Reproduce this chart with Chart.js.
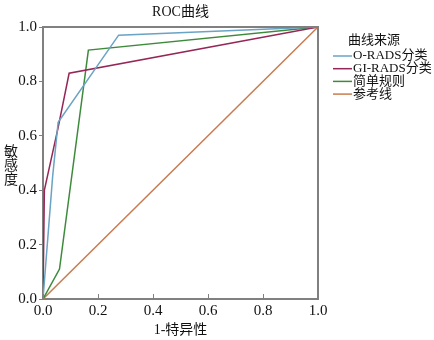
<!DOCTYPE html>
<html><head><meta charset="utf-8">
<script src="https://cdn.jsdelivr.net/npm/chart.js@4/dist/chart.umd.min.js"></script>
<style>html,body{margin:0;padding:0;background:#fff}#wrap{width:434px;height:340px}</style>
</head><body><div id="wrap"><canvas id="c" width="434" height="340"></canvas></div>
<script>
const titleText = 'ROC曲线';
const xTitle = '1-特异性';
const yTitle = ['敏', '感', '度'];
const legendTitle = '曲线来源';
const seriesNames = ['O-RADS分类', 'GI-RADS分类', '简单规则', '参考线'];
const seriesColors = ['#6aa3c4', '#952656', '#3e8a3c', '#c97b50'];
const tickValues = [0, 0.2, 0.4, 0.6, 0.8, 1.0];
const tickLabels = ['0.0', '0.2', '0.4', '0.6', '0.8', '1.0'];

const oradsX = [0, 0.035, 0.055, 0.275, 1];
const oradsY = [0, 0.45, 0.65, 0.97, 1];
const giradsX = [0, 0.005, 0.055, 0.095, 1];
const giradsY = [0, 0.40, 0.63, 0.83, 1];
const simpleX = [0, 0.06, 0.165, 1];
const simpleY = [0, 0.11, 0.915, 1];
const refX = [0, 1];
const refY = [0, 1];

const pts = (xs, ys) => xs.map((x, i) => ({x, y: ys[i]}));
const serif = '"Liberation Serif", "Noto Sans CJK SC", serif';

const series = [pts(oradsX, oradsY), pts(giradsX, giradsY), pts(simpleX, simpleY), pts(refX, refY)];
const datasets = series.map((d, i) => ({
  label: seriesNames[i], data: d, showLine: true, borderColor: seriesColors[i],
  backgroundColor: seriesColors[i], borderWidth: 1.5, pointRadius: 0, tension: 0, order: i === 3 ? 4 : i
}));

const deco = {
  id: 'deco',
  afterDraw(chart) {
    const ctx = chart.ctx, a = chart.chartArea;
    ctx.save();
    // box top/right
    ctx.strokeStyle = '#808080'; ctx.lineWidth = 2;
    ctx.beginPath();
    ctx.moveTo(a.left, a.top); ctx.lineTo(a.right, a.top); ctx.lineTo(a.right, a.bottom);
    ctx.stroke();
    // inward x ticks
    ctx.lineWidth = 1;
    const xs = chart.scales.x;
    tickValues.forEach(v => {
      const px = Math.round(xs.getPixelForValue(v)) + 0.5;
      ctx.beginPath(); ctx.moveTo(px, a.bottom); ctx.lineTo(px, a.bottom - 5); ctx.stroke();
    });
    ctx.fillStyle = '#111';
    // title
    ctx.font = '14px ' + serif; ctx.textAlign = 'center'; ctx.textBaseline = 'middle';
    ctx.fillText(titleText, (a.left + a.right) / 2, 12);
    // x title
    ctx.fillText(xTitle, (a.left + a.right) / 2, 330);
    // y title stacked
    yTitle.forEach((ch, i) => ctx.fillText(ch, 11, 152 + i * 14));
    // legend
    ctx.font = '13px ' + serif;
    ctx.fillText(legendTitle, 374, 41);
    ctx.textAlign = 'left';
    datasets.forEach((ds, i) => {
      const y = 56 + i * 12.7;
      ctx.strokeStyle = ds.borderColor; ctx.lineWidth = 1.5;
      ctx.beginPath(); ctx.moveTo(333, y); ctx.lineTo(352, y); ctx.stroke();
      ctx.fillText(ds.label, 353, y);
    });
    ctx.restore();
  }
};

const axisCommon = (isX) => ({
  type: 'linear', min: 0, max: 1,
  afterBuildTicks: s => { s.ticks = tickValues.map(v => ({value: v})); },
  ticks: { callback: (v) => tickLabels[tickValues.findIndex(t => Math.abs(t - v) < 1e-9)],
    font: {family: serif, size: 15}, color: '#111', padding: isX ? 3 : 2, maxRotation: 0, autoSkip: false },
  grid: { display: true, drawOnChartArea: false, drawTicks: !isX, tickLength: 4, color: '#808080' },
  border: { display: true, color: '#808080', width: 2 },
  title: { display: false },
  afterFit: s => { if (isX) s.height = 41; else s.width = 43; }
});

new Chart(document.getElementById('c'), {
  type: 'scatter',
  data: { datasets },
  options: {
    responsive: false, animation: false, devicePixelRatio: 1,
    layout: { padding: { top: 27, right: 116, left: 0, bottom: 0 } },
    plugins: { legend: { display: false }, title: { display: false }, tooltip: { enabled: false } },
    scales: { x: axisCommon(true), y: axisCommon(false) }
  },
  plugins: [deco]
});
</script></body></html>
